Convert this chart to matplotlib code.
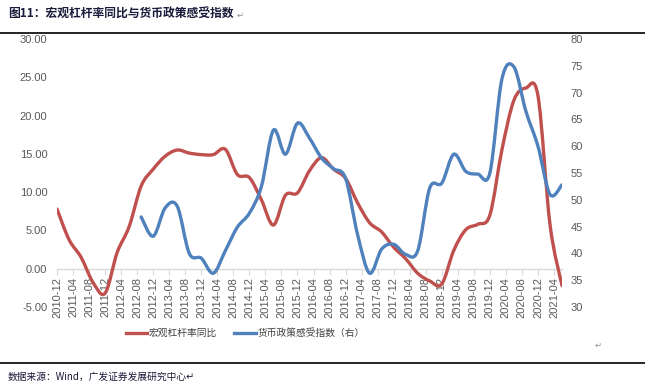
import numpy as np
import pandas as pd
import matplotlib
matplotlib.use('Agg')
import matplotlib.pyplot as plt
from matplotlib.path import Path
from matplotlib.patches import PathPatch
from matplotlib.lines import Line2D

#
# Data (quarterly)
#
lev_dates = pd.date_range('2010-12-01', '2021-06-01', freq='3MS')
lev_yoy = [7.8, 3.8, 1.5, -1.8, -3.2, 2.1, 5.5, 10.8, 13.0, 14.7, 15.5, 15.1,
           14.9, 14.9, 15.6, 12.3, 11.9, 9.0, 5.7, 9.6, 9.9, 12.8, 14.5, 13.0,
           11.8, 8.6, 6.0, 4.8, 2.8, 1.3, -0.6, -1.6, -2.0, 2.4, 5.1, 5.8,
           7.0, 15.5, 22.0, 23.6, 22.6, 5.8, -2.2]

mp_dates = pd.date_range('2012-09-01', '2021-06-01', freq='3MS')
mp_index = [46.8, 43.2, 48.5, 48.8, 40.0, 39.1, 36.3, 40.5, 44.9, 47.5, 52.5, 63.0,
            58.5, 64.3, 61.5, 57.8, 55.8, 54.0, 43.5, 36.3, 40.8, 41.7, 39.8, 40.5,
            52.2, 53.1, 58.5, 55.3, 54.8, 55.0, 72.5, 74.8, 66.5, 60.0, 51.0, 52.8]

tick_dates = pd.date_range('2010-12-01', '2021-04-01', freq='4MS')
tick_labels = list(tick_dates.strftime('%Y-%m'))

left_ticks = np.arange(-5, 31, 5)
right_ticks = np.arange(30, 81, 5)

RED = '#C0504D'
BLUE = '#4F81BD'
CJK = ['Noto Sans CJK SC', 'DejaVu Sans']

plt.rcParams['font.family'] = ['Liberation Sans', 'Noto Sans CJK SC', 'DejaVu Sans']


def month_index(dates):
    return np.array([(d.year - 2010) * 12 + d.month - 12 for d in dates], dtype=float)


def smooth_path(x, y):
    """Excel-like smoothed line: Catmull-Rom segments as cubic beziers"""
    pts = np.column_stack([x, y])
    verts = [pts[0]]
    codes = [Path.MOVETO]
    n = len(pts)
    for i in range(n - 1):
        p0 = pts[max(i - 1, 0)]
        p1 = pts[i]
        p2 = pts[i + 1]
        p3 = pts[min(i + 2, n - 1)]
        c1 = p1 + (p2 - p0) / 6.0
        c2 = p2 - (p3 - p1) / 6.0
        verts += [c1, c2, p2]
        codes += [Path.CURVE4] * 3
    return Path(verts, codes)


fig = plt.figure(figsize=(6.45, 3.92), dpi=100)
ax = fig.add_axes([57 / 645, 1 - 307 / 392, (562 - 57) / 645, (307 - 39) / 392])
ax2 = ax.twinx()

ax.set_xlim(0, 126)
ax.set_ylim(-5, 30)
ax2.set_ylim(30, 80)

ax.add_patch(PathPatch(smooth_path(month_index(lev_dates), lev_yoy), fill=False,
                       edgecolor=RED, lw=2.4, capstyle='round', joinstyle='round', zorder=3))
ax2.add_patch(PathPatch(smooth_path(month_index(mp_dates), mp_index), fill=False,
                        edgecolor=BLUE, lw=2.4, capstyle='round', joinstyle='round', zorder=3))

# axes styling
for a in (ax, ax2):
    for s in ('top', 'left', 'right'):
        a.spines[s].set_visible(False)
ax2.spines['bottom'].set_visible(False)
ax.spines['bottom'].set_position(('data', 0))
ax.spines['bottom'].set_color('#D9D9D9')
ax.spines['bottom'].set_linewidth(1.0)

ax.set_xticks(month_index(tick_dates))
ax.set_xticklabels(tick_labels, rotation=90, fontsize=8, color='#595959')
ax.tick_params(axis='x', length=4, color='#D9D9D9', pad=2)

ax.set_yticks(left_ticks)
ax.set_yticklabels([f'{v:.2f}' for v in left_ticks], fontsize=8, color='#595959')
ax.tick_params(axis='y', length=0, pad=7)
ax2.set_yticks(right_ticks)
ax2.set_yticklabels([str(v) for v in right_ticks], fontsize=8, color='#595959')
ax2.tick_params(axis='y', length=0, pad=6)

# legend
handles = [Line2D([], [], color=RED, lw=2.4), Line2D([], [], color=BLUE, lw=2.4)]
fig.legend(handles, ['宏观杠杆率同比', '货币政策感受指数（右）'], loc='center',
           bbox_to_anchor=(0.38, 1 - 333 / 392), ncol=2, frameon=False,
           prop={'family': CJK, 'size': 7}, labelcolor='#404040',
           handlelength=2.2, handletextpad=0.15, columnspacing=1.8)

# title, rules and source
fig.text(8 / 645, 1 - 14 / 392, '图11：宏观杠杆率同比与货币政策感受指数', family=CJK,
         fontsize=8.5, fontweight='bold', color='#1A1A3A', va='center', ha='left')
fig.text(237 / 645, 1 - 15 / 392, '↵', family=['DejaVu Sans'], fontsize=6,
         color='#909090', va='center', ha='left')
fig.add_artist(Line2D([0, 1], [1 - 32.5 / 392] * 2, color='black', lw=1.2))
fig.text(598 / 645, 1 - 345 / 392, '↵', family=['DejaVu Sans'], fontsize=6,
         color='#909090', va='center', ha='center')
fig.add_artist(Line2D([0, 1], [1 - 363 / 392] * 2, color='black', lw=1.2))
fig.text(8 / 645, 1 - 377 / 392, '数据来源：Wind，广发证券发展研究中心↵', family=CJK,
         fontsize=7, color='#1A1A3A', va='center', ha='left')

fig.savefig('out.png', dpi=100)
